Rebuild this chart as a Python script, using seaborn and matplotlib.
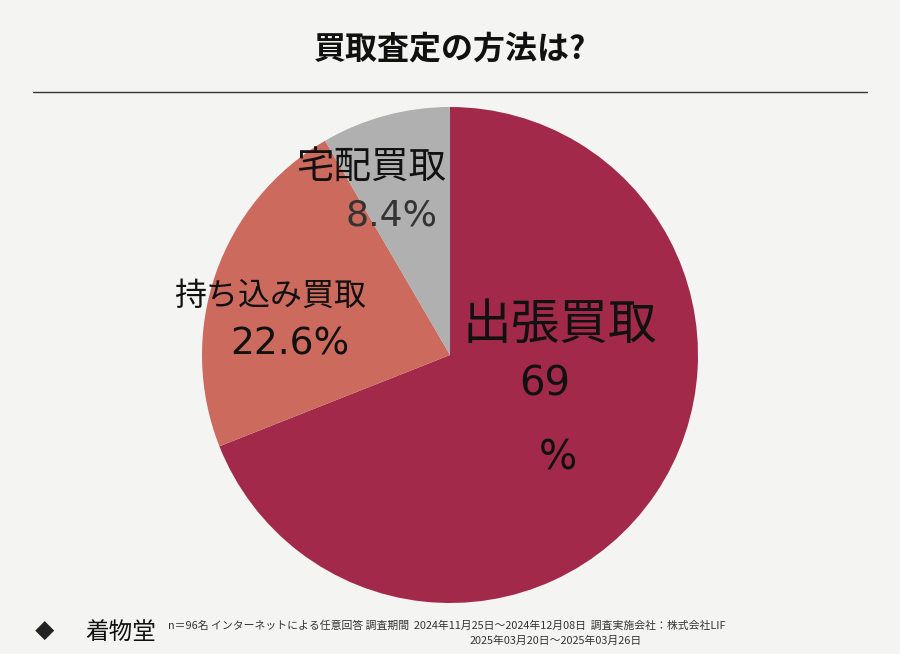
import matplotlib
matplotlib.use("Agg")
import matplotlib.pyplot as plt
import seaborn as sns

sns.set_theme(style="white")
plt.rcParams["font.family"] = "Noto Sans CJK JP"

categories = ["出張買取", "持ち込み買取", "宅配買取"]
values = [69, 22.6, 8.4]
value_labels = ["69\n%", "22.6%", "8.4%"]
colors = ["#A3294B", "#CC6A5E", "#B0B0B0"]

fig = plt.figure(figsize=(9, 6.54), dpi=100)
fig.patch.set_facecolor("#F4F4F2")

fig.text(0.5, 0.925, "買取査定の方法は?", ha="center", va="center", fontsize=23, fontweight="bold", color="#111")
fig.add_artist(plt.Line2D([33/900, 867/900], [1-92/654, 1-92/654], color="#333", lw=1))

ax = fig.add_axes([(450-248)/900, (654-355-248)/654, 496/900, 496/654])
ax.pie(values, colors=colors, startangle=90, counterclock=False,
       wedgeprops=dict(linewidth=0))
ax.set_xlim(-1, 1)
ax.set_ylim(-1, 1)
ax.set_aspect("equal")
ax.axis("off")

def px(x, y):
    return x/900, 1-y/654

num = "DejaVu Sans"
fig.text(*px(560, 325), categories[0], ha="center", va="center", fontsize=35, color="#111")
fig.text(*px(545, 385), "69", ha="center", va="center", fontsize=29, color="#111", family=num)
fig.text(*px(558, 458), "%", ha="center", va="center", fontsize=29, color="#111", family=num)
fig.text(*px(270, 296), categories[1], ha="center", va="center", fontsize=23, color="#111")
fig.text(*px(290, 345), value_labels[1], ha="center", va="center", fontsize=27, color="#111", family=num)
fig.text(*px(371, 167), categories[2], ha="center", va="center", fontsize=27, color="#111")
fig.text(*px(392, 216), value_labels[2], ha="center", va="center", fontsize=26, color="#333", family=num)

fig.text(*px(35, 632), "◆", ha="left", va="center", fontsize=14, color="#222")
fig.text(*px(85, 632), "着物堂", ha="left", va="center", fontsize=17, color="#111")
fig.text(*px(168, 626), "n＝96名 インターネットによる任意回答 調査期間  2024年11月25日～2024年12月08日  調査実施会社：株式会社LIF",
         ha="left", va="center", fontsize=7.8, color="#333")
fig.text(*px(556, 641), "2025年03月20日～2025年03月26日", ha="center", va="center", fontsize=7.8, color="#333")

fig.savefig("out.png", dpi=100, facecolor=fig.get_facecolor())
